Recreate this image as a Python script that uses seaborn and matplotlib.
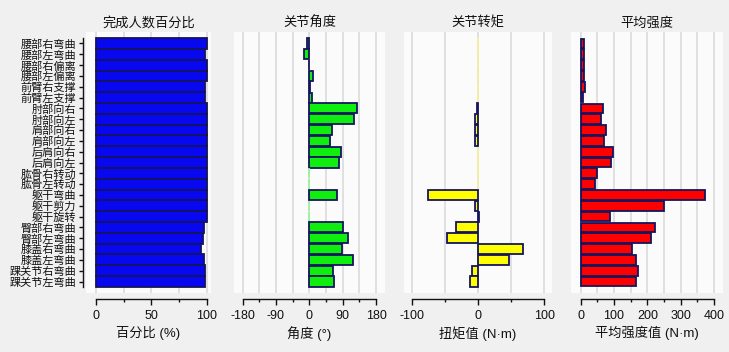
import matplotlib
matplotlib.use("Agg")
import matplotlib.pyplot as plt
import seaborn as sns
import pandas as pd

categories = ["腰部右弯曲", "腰部左弯曲", "腰部右偏离", "腰部左偏离", "前臂右支撑", "前臂左支撑",
              "肘部向右", "肘部向左", "肩部向右", "肩部向左", "后肩向右", "后肩向左",
              "肱骨右转动", "肱骨左转动", "躯干弯曲", "躯干剪力", "躯干旋转",
              "臀部右弯曲", "臀部左弯曲", "膝盖右弯曲", "膝盖左弯曲", "踝关节右弯曲", "踝关节左弯曲"]
completion = [100, 99, 100, 100, 99, 99, 100, 100, 100, 100, 100, 100, 100, 100, 100, 100, 100,
              97.5, 97, 95, 97.5, 99, 99]
angle = [-7, -14, -2, 11, 3, 7, 129, 120, 60, 57, 86, 81, 0, 0, 74, 0, 0, 90, 105, 87, 118, 63, 66]
torque = [0, 0, 0, 0, 0, 0, -1.5, -4, -5, -5, 0, 0, 0, 0, -75, -5, 1.5, -34, -47, 68, 47, -9, -12.5]
strength = [10, 10, 10, 10, 12, 8, 67, 62, 77, 69, 97, 90, 49, 44, 374, 251, 89, 224, 210, 155, 165, 172, 167]

titles = ["完成人数百分比", "关节角度", "关节转矩", "平均强度"]
xlabels = ["百分比 (%)", "角度 (°)", "扭矩值 (N·m)", "平均强度值 (N·m)"]

sns.set_theme(style="white")
plt.rcParams["font.family"] = ["Liberation Sans", "Noto Sans CJK SC", "DejaVu Sans"]
plt.rcParams["axes.unicode_minus"] = False

W, H = 729, 352
fig = plt.figure(figsize=(W / 100, H / 100), dpi=100, facecolor="#f0f0f0")


def add_ax(x0, x1, y0, y1):
    return fig.add_axes([x0 / W, 1 - y1 / H, (x1 - x0) / W, (y1 - y0) / H])


panels = [
    dict(box=(86, 211), vals=completion, color="#0808f0", zero=None, xlim=(-9, 104),
         major=50, minor=25, bounds=(0, 100), width=1.0),
    dict(box=(234, 385), vals=angle, color="#10ee10", zero="#9af29a", xlim=(-203, 204),
         major=90, minor=45, bounds=(-180, 180), width=0.93),
    dict(box=(404, 552), vals=torque, color="#ffff00", zero="#f6f0a0", xlim=(-112, 112),
         major=100, minor=50, bounds=(-100, 100), width=0.93),
    dict(box=(571, 723), vals=strength, color="#ff0000", zero=None, xlim=(-29, 427),
         major=100, minor=50, bounds=(0, 400), width=0.9),
]

edge = "#14145e"
text_c = "#111111"
n = len(categories)

for i, p in enumerate(panels):
    ax = add_ax(p["box"][0], p["box"][1], 32, 293)
    ax.set_facecolor("#fbfbfb")
    df = pd.DataFrame({"cat": categories, "val": p["vals"]})
    sns.barplot(data=df, x="val", y="cat", orient="h", ax=ax, color=p["color"],
                edgecolor=edge, linewidth=1.3, width=p["width"], errorbar=None,
                saturation=1)
    if p["zero"] is not None:
        for patch, v in zip(ax.patches, p["vals"]):
            if v == 0:
                patch.set_edgecolor(p["zero"])
    ax.set_xlim(*p["xlim"])
    ax.set_ylim(n - 0.5 + 0.56, -0.5 - 0.56)
    lo, hi = p["bounds"]
    ax.set_xticks(list(range(lo, hi + 1, p["major"])))
    ax.set_xticks(list(range(lo, hi + 1, p["minor"])), minor=True)
    ax.grid(axis="x", which="both", color="#d8d8d8", lw=1.1)
    ax.grid(axis="y", visible=False)
    ax.set_axisbelow(True)
    for s in ["top", "right"]:
        ax.spines[s].set_visible(False)
    ax.spines["bottom"].set_position(("outward", 4.5))
    ax.spines["bottom"].set_bounds(lo, hi)
    ax.spines["bottom"].set_color("#111111")
    ax.spines["bottom"].set_linewidth(1.0)
    ax.tick_params(axis="x", which="major", direction="out", length=4.5, width=1.0,
                   color="#111111", labelsize=9, labelcolor=text_c, pad=3, bottom=True)
    ax.tick_params(axis="x", which="minor", direction="out", length=2.5, width=1.0,
                   color="#111111", bottom=True)
    ax.set_xlabel(xlabels[i], fontsize=9.5, color=text_c, labelpad=3)
    ax.set_ylabel("")
    ax.set_title(titles[i], fontsize=9.5, color=text_c, pad=4)
    if i == 0:
        ax.spines["left"].set_position(("outward", 2.2))
        ax.spines["left"].set_bounds(-0.5, n - 0.5)
        ax.spines["left"].set_color("#111111")
        ax.spines["left"].set_linewidth(1.0)
        ax.tick_params(axis="y", direction="out", length=3, width=1.0, color="#111111",
                       labelsize=8, labelcolor=text_c, pad=2, left=True)
    else:
        ax.spines["left"].set_visible(False)
        ax.set_yticks([])

fig.savefig("out.png", dpi=100, facecolor=fig.get_facecolor())
